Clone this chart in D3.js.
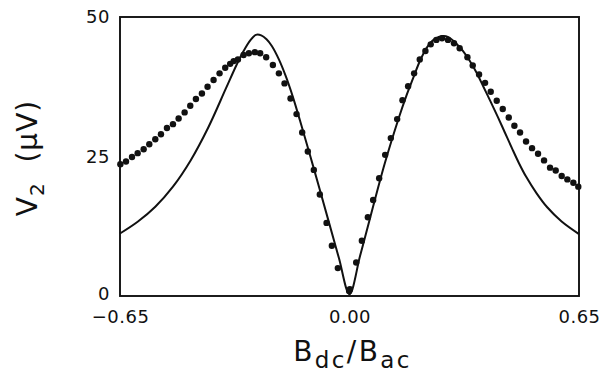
<!DOCTYPE html>
<html>
<head>
<meta charset="utf-8">
<script src="https://cdn.jsdelivr.net/npm/d3@7"></script>
<style>
  html, body { margin: 0; padding: 0; background: #fff; }
  text { font-family: "DejaVu Sans", sans-serif; fill: #111; }
</style>
</head>
<body>
<div id="chart"></div>
<script>
// --------------- Data ---------------
const X_TICKS = [-0.65, 0, 0.65];
const Y_TICKS = [0, 25, 50];

// measured points (dots)
const DOT_X = [
  -0.649, -0.633, -0.616, -0.600, -0.583, -0.567, -0.550, -0.534, -0.517, -0.500,
  -0.484, -0.467, -0.451, -0.435, -0.418, -0.402, -0.385, -0.368, -0.352, -0.338,
  -0.328, -0.316, -0.300, -0.285, -0.268, -0.253, -0.236, -0.217, -0.200, -0.184,
  -0.167, -0.150, -0.134, -0.118, -0.101, -0.084, -0.065, -0.050, -0.033, -0.001,
  0.001, 0.019, 0.035, 0.052, 0.067, 0.084, 0.101, 0.117, 0.135, 0.150,
  0.166, 0.183, 0.199, 0.215, 0.230, 0.246, 0.262, 0.279, 0.296, 0.312,
  0.334, 0.349, 0.367, 0.384, 0.400, 0.417, 0.434, 0.451, 0.467, 0.483,
  0.500, 0.517, 0.534, 0.551, 0.568, 0.584, 0.601, 0.617, 0.634, 0.648
];
const DOT_Y = [
  23.6, 24.1, 24.9, 25.6, 26.3, 27.2, 28.1, 29.0, 30.1, 30.8,
  31.8, 32.9, 34.1, 35.3, 36.3, 37.5, 38.7, 39.9, 40.9, 41.6,
  42.1, 42.4, 43.2, 43.5, 43.7, 43.5, 42.8, 41.4, 39.9, 38.1,
  35.4, 32.6, 29.3, 25.9, 22.6, 18.2, 13.1, 9.0, 5.0, 0.9,
  1.2, 6.0, 9.9, 14.1, 17.2, 21.1, 25.3, 28.3, 31.7, 35.1,
  37.6, 39.9, 42.4, 43.9, 45.1, 45.9, 46.2, 45.9, 45.3, 44.4,
  42.8, 41.3, 39.7, 38.2, 36.6, 35.0, 33.5, 32.0, 30.5, 29.3,
  27.7, 26.5, 25.5, 24.3, 23.0, 22.5, 21.5, 20.9, 20.3, 19.6
];

// theory curve (solid line)
const FIT_X = [
  -0.650, -0.600, -0.550, -0.500, -0.450, -0.400, -0.350, -0.320, -0.300, -0.280,
  -0.265, -0.250, -0.235, -0.220, -0.200, -0.180, -0.160, -0.140, -0.100, -0.060,
  -0.030, 0.000, 0.030, 0.060, 0.100, 0.140, 0.160, 0.180, 0.200, 0.220,
  0.240, 0.265, 0.280, 0.300, 0.320, 0.340, 0.360, 0.380, 0.400, 0.420,
  0.440, 0.460, 0.480, 0.500, 0.530, 0.560, 0.600, 0.650
];
const FIT_Y = [
  11.2, 13.3, 16.0, 19.6, 24.3, 30.2, 37.2, 41.4, 43.9, 45.9,
  46.8, 46.7, 46.0, 44.8, 42.4, 39.3, 35.6, 31.4, 22.6, 13.6,
  6.8, 0.3, 7.2, 14.4, 23.8, 32.0, 35.7, 39.0, 42.2, 44.6,
  46.0, 46.6, 46.4, 45.4, 44.0, 42.2, 40.0, 37.4, 34.8, 32.1,
  29.3, 26.5, 23.8, 21.4, 18.4, 15.9, 13.4, 11.1
];

// --------------- Layout ---------------
const WIDTH = 611;
const HEIGHT = 377;
const MARGINS = { top: 17, right: 32, bottom: 81, left: 120 };

const svg = d3.select("#chart")
  .append("svg")
  .attr("width", WIDTH)
  .attr("height", HEIGHT);

const x = d3.scaleLinear()
  .domain([-0.65, 0.65])
  .range([MARGINS.left, WIDTH - MARGINS.right]);
const y = d3.scaleLinear()
  .domain([0, 50])
  .range([HEIGHT - MARGINS.bottom, MARGINS.top]);

// frame
svg.append("rect")
  .attr("x", x(-0.65))
  .attr("y", y(50))
  .attr("width", x(0.65) - x(-0.65))
  .attr("height", y(0) - y(50))
  .attr("fill", "none")
  .attr("stroke", "#111")
  .attr("stroke-width", 1.9);

// axes (labels only)
const xAxis = svg.append("g")
  .attr("transform", `translate(0,${y(0)})`)
  .call(d3.axisBottom(x).tickValues(X_TICKS).tickSize(0).tickPadding(14).tickFormat(d3.format(".2f")));
const yAxis = svg.append("g")
  .attr("transform", `translate(${x(-0.65)},0)`)
  .call(d3.axisLeft(y).tickValues(Y_TICKS).tickSize(0).tickPadding(10));
[xAxis, yAxis].forEach((g) => {
  g.select(".domain").remove();
  g.selectAll("text")
    .attr("font-size", "18px")
    .attr("font-family", "DejaVu Sans")
    .attr("letter-spacing", "0.5px")
    .attr("fill", "#111");
});
yAxis.selectAll(".tick text").filter((d) => d === 0).attr("dy", "0.2em");

// solid curve
const line = d3.line()
  .x((d) => x(d[0]))
  .y((d) => y(d[1]))
  .curve(d3.curveCatmullRom.alpha(0.5));
svg.append("path")
  .datum(FIT_X.map((v, i) => [v, FIT_Y[i]]))
  .attr("d", line)
  .attr("fill", "none")
  .attr("stroke", "#111")
  .attr("stroke-width", 2);

// dots
svg.append("g")
  .selectAll("circle")
  .data(DOT_X.map((v, i) => [v, DOT_Y[i]]))
  .join("circle")
  .attr("cx", (d) => x(d[0]))
  .attr("cy", (d) => y(d[1]))
  .attr("r", 3.2)
  .attr("fill", "#111");

// axis titles
const yTitle = svg.append("text")
  .attr("transform", `translate(37,158) rotate(-90)`)
  .attr("text-anchor", "middle")
  .attr("font-family", "Liberation Sans")
  .attr("font-size", "28px")
  .attr("letter-spacing", "1px");
yTitle.append("tspan").text("V");
yTitle.append("tspan").attr("font-size", "20px").attr("dy", 7).text("2");
yTitle.append("tspan").attr("dy", -7).text("\u00a0\u00a0(\u03bcV)");

const xTitle = svg.append("text")
  .attr("x", x(0) + 3)
  .attr("y", 361)
  .attr("text-anchor", "middle")
  .attr("font-family", "Liberation Sans")
  .attr("font-size", "28px")
  .attr("letter-spacing", "2.4px");
xTitle.append("tspan").text("B");
xTitle.append("tspan").attr("font-size", "23px").attr("dy", 7).text("dc");
xTitle.append("tspan").attr("dy", -7).text("/B");
xTitle.append("tspan").attr("font-size", "23px").attr("dy", 7).text("ac");
</script>
</body>
</html>
